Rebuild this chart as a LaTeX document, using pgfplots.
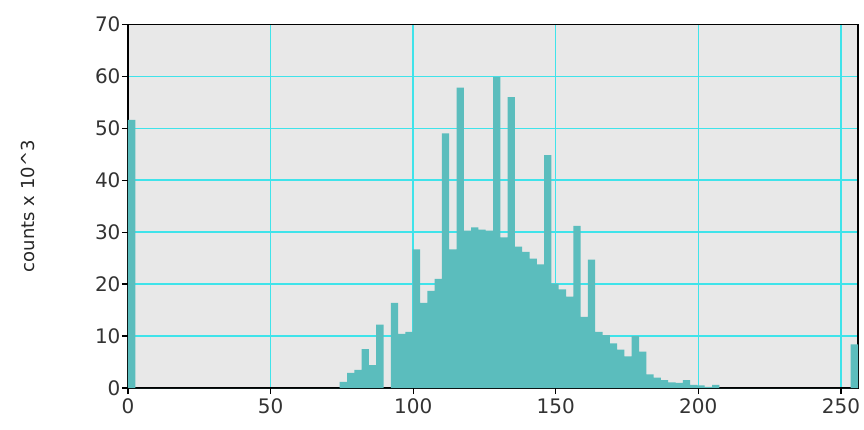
\documentclass[border=0pt]{standalone}
\usepackage{fontspec}
\setmainfont{DejaVu Sans}
\usepackage{pgfplots}
\usepackage{pgfplotstable}
\pgfplotsset{compat=1.18}
\definecolor{barc}{HTML}{5BBDBD}
\definecolor{gridc}{HTML}{3FE3EA}
\definecolor{bgc}{HTML}{E8E8E8}
\pgfplotstableread{
bin count
0 51.6
1 0
2 0
3 0
4 0
5 0
6 0
7 0
8 0
9 0
10 0
11 0
12 0
13 0
14 0
15 0
16 0
17 0
18 0
19 0
20 0
21 0
22 0
23 0
24 0
25 0
26 0
27 0
28 0
29 1.2
30 2.9
31 3.5
32 7.5
33 4.4
34 12.2
35 0
36 16.4
37 10.4
38 10.8
39 26.7
40 16.4
41 18.7
42 21.0
43 49.0
44 26.7
45 57.8
46 30.3
47 30.9
48 30.5
49 30.3
50 59.9
51 29.0
52 56.0
53 27.2
54 26.2
55 24.9
56 23.8
57 44.8
58 20.1
59 19.0
60 17.6
61 31.2
62 13.7
63 24.7
64 10.8
65 10.2
66 8.6
67 7.4
68 6.1
69 10.0
70 7.0
71 2.6
72 2.0
73 1.5
74 1.1
75 1.0
76 1.5
77 0.6
78 0.5
79 0.2
80 0.6
81 0
82 0
83 0
84 0
85 0
86 0
87 0
88 0
89 0
90 0
91 0
92 0
93 0
94 0
95 0
96 0
97 0
98 0
99 8.4
100 0
}\hist
\begin{document}
\begin{tikzpicture}
\begin{axis}[
  name=ax,
  scale only axis, width=730pt, height=363.7pt,
  xmin=0, xmax=256, ymin=0, ymax=70,
  axis background/.style={fill=bgc},
  xmajorgrids, ymajorgrids,
  major grid style={gridc, line width=1.4pt},
  xtick={0,50,...,250}, ytick={0,10,...,70},
  xtick align=outside, ytick align=outside,
  xtick pos=left, ytick pos=left,
  major tick length=6pt,
  major tick style={draw=black, line width=1.2pt},
  axis line style={black, line width=1.2pt},
  xticklabel style={font=\fontsize{20}{22}\selectfont, text=black!80, yshift=-1pt},
  yticklabel style={font=\fontsize{20}{22}\selectfont, text=black!80, xshift=2pt},
  /pgf/number format/assume math mode=true,
  ylabel={counts x 10\textasciicircum3},
  every axis y label/.style={at={(rel axis cs:-0.137,0.5)}, rotate=90, anchor=center, font=\fontsize{18}{20}\selectfont, text=black!85},
  extra description/.code={
    \foreach \r in {0,0.142857,0.285714,0.428571,0.571429,0.714286,0.857143,1}
      {\draw[black, line width=1.2pt] (rel axis cs:0,\r) -- ++(-6pt,0);}
    \foreach \r in {0,0.195313,0.390625,0.585938,0.78125,0.976563}
      {\draw[black, line width=1.2pt] (rel axis cs:\r,0) -- ++(0,-6pt);}
  },
]
\addplot[fill=barc, draw=none, const plot mark left] table[x expr=\thisrow{bin}*2.56, y=count] {\hist} \closedcycle;
\end{axis}
\path[use as bounding box] (ax.south west) ++(-128pt,-41pt) rectangle ++(864pt,429pt);
\end{tikzpicture}
\end{document}
